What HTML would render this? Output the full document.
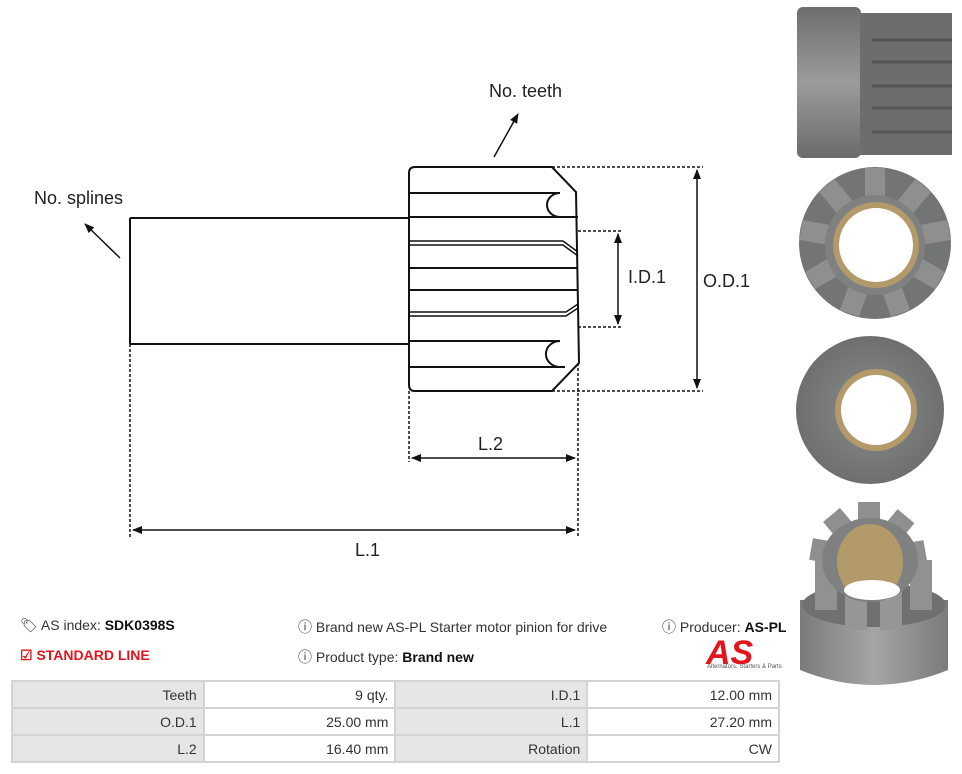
<!DOCTYPE html>
<html><head><meta charset="utf-8"><style>
body{margin:0;width:962px;height:774px;background:#fff;font-family:"Liberation Sans",sans-serif;overflow:hidden;position:relative}
.t{position:absolute;font-size:14px;color:#333;white-space:nowrap}
b{color:#111}
table{position:absolute;left:11px;top:680px;border-collapse:collapse;width:769px}
td{border:2px solid #d4d4d4;height:25px;font-size:14px;color:#333;text-align:right;padding:0 6px;width:180px}
td.g{background:#e6e6e6}
</style></head><body>
<svg width="962" height="774" style="position:absolute;left:0;top:0" font-family="Liberation Sans, sans-serif">
<defs>
<marker id="a" markerWidth="10" markerHeight="10" refX="9" refY="5" orient="auto" markerUnits="userSpaceOnUse"><path d="M0,1 L10,5 L0,9 z" fill="#111"/></marker>
<marker id="b" markerWidth="10" markerHeight="10" refX="1" refY="5" orient="auto" markerUnits="userSpaceOnUse"><path d="M10,1 L0,5 L10,9 z" fill="#111"/></marker>
<radialGradient id="gr" cx="50%" cy="50%" r="50%"><stop offset="0" stop-color="#8a8c8c"/><stop offset="1" stop-color="#6e7070"/></radialGradient>
<linearGradient id="gl" x1="0" y1="0" x2="0" y2="1"><stop offset="0" stop-color="#6d6f6f"/><stop offset=".5" stop-color="#9a9c9c"/><stop offset="1" stop-color="#6a6c6c"/></linearGradient>
<linearGradient id="gh" x1="0" y1="0" x2="1" y2="0"><stop offset="0" stop-color="#7a7c7c"/><stop offset=".5" stop-color="#a4a6a6"/><stop offset="1" stop-color="#7a7c7c"/></linearGradient>
</defs>
<g stroke="#111" fill="none" stroke-width="2">
<path d="M130,218 H409 M130,344 H409 M130,218 V344"/>
<path d="M415,167 H552 L576,192 L579,363 L552,391 H415 Q409,391 409,385 V173 Q409,167 415,167 Z"/>
<path d="M409,193 H560 M409,217 H578 M409,268 H578 M409,290 H578 M409,341 H560 M409,367 H565"/>
<path d="M409,241 H563 L578,252 M409,245 H563 L578,256" stroke-width="1.5"/>
<path d="M409,312 H566 L578,304 M409,316 H566 L578,308" stroke-width="1.5"/>
<path d="M560,193 A13,12 0 0 0 560,217 M560,341 A13,12 0 0 0 560,367"/>
</g>
<g stroke="#111" stroke-width="1.5" stroke-dasharray="3,2" fill="none">
<path d="M130,344 V537 M409,391 V462 M578,363 V537 M552,167 H703 M552,391 H703 M578,231 H622 M578,327 H622"/>
</g>
<g stroke="#111" stroke-width="1.5">
<line x1="697" y1="170" x2="697" y2="388" marker-start="url(#b)" marker-end="url(#a)"/>
<line x1="618" y1="234" x2="618" y2="324" marker-start="url(#b)" marker-end="url(#a)"/>
<line x1="412" y1="458" x2="575" y2="458" marker-start="url(#b)" marker-end="url(#a)"/>
<line x1="133" y1="530" x2="575" y2="530" marker-start="url(#b)" marker-end="url(#a)"/>
<line x1="494" y1="157" x2="518" y2="114" marker-end="url(#a)"/>
<line x1="120" y1="258" x2="85" y2="224" marker-end="url(#a)"/>
</g>
<g font-size="18" fill="#222">
<text x="489" y="97">No. teeth</text>
<text x="34" y="204">No. splines</text>
<text x="628" y="283">I.D.1</text>
<text x="703" y="287">O.D.1</text>
<text x="478" y="450">L.2</text>
<text x="355" y="556">L.1</text>
</g>
<rect x="797" y="7" width="64" height="151" rx="6" fill="url(#gl)"/>
<rect x="860" y="13" width="92" height="142" fill="#6c6e6e"/>
<g stroke="#555" stroke-width="3"><path d="M872,40 H952 M872,62 H952 M872,86 H952 M872,108 H952 M872,132 H952"/></g>
<circle cx="875" cy="243" r="76" fill="#737575"/>
<g fill="#8e9090">
<rect x="865" y="168" width="20" height="30" transform="rotate(0 875 243)"/>
<rect x="865" y="168" width="20" height="30" transform="rotate(40 875 243)"/>
<rect x="865" y="168" width="20" height="30" transform="rotate(80 875 243)"/>
<rect x="865" y="168" width="20" height="30" transform="rotate(120 875 243)"/>
<rect x="865" y="168" width="20" height="30" transform="rotate(160 875 243)"/>
<rect x="865" y="168" width="20" height="30" transform="rotate(200 875 243)"/>
<rect x="865" y="168" width="20" height="30" transform="rotate(240 875 243)"/>
<rect x="865" y="168" width="20" height="30" transform="rotate(280 875 243)"/>
<rect x="865" y="168" width="20" height="30" transform="rotate(320 875 243)"/>
</g>
<circle cx="875" cy="245" r="50" fill="#7f8181"/>
<circle cx="876" cy="245" r="43" fill="#b29a6a"/>
<circle cx="876" cy="245" r="37" fill="#fff"/>
<circle cx="870" cy="410" r="74" fill="url(#gr)"/>
<circle cx="876" cy="410" r="41" fill="#b29a6a"/>
<circle cx="876" cy="410" r="35" fill="#fff"/>
<path d="M800,600 H948 V670 Q874,700 800,670 Z" fill="url(#gh)"/>
<ellipse cx="874" cy="605" rx="72" ry="22" fill="#6f7171"/>
<g fill="#8e9090">
<rect x="858" y="502" width="22" height="40" transform="rotate(0 868 560)"/>
<rect x="858" y="502" width="22" height="40" transform="rotate(40 868 560)"/>
<rect x="858" y="502" width="22" height="40" transform="rotate(80 868 560)"/>
<rect x="858" y="502" width="22" height="40" transform="rotate(-40 868 560)"/>
<rect x="858" y="502" width="22" height="40" transform="rotate(-80 868 560)"/>
</g>
<rect x="815" y="560" width="22" height="50" fill="#909292"/>
<rect x="845" y="570" width="22" height="60" fill="#959797"/>
<rect x="880" y="570" width="22" height="60" fill="#959797"/>
<rect x="910" y="560" width="22" height="50" fill="#909292"/>
<ellipse cx="870" cy="560" rx="48" ry="42" fill="#7f8181"/>
<ellipse cx="870" cy="562" rx="33" ry="38" fill="#b29a6a"/>
<ellipse cx="872" cy="590" rx="28" ry="10" fill="#fff"/>
<text x="706" y="664" font-size="34" font-weight="bold" font-style="italic" fill="#e3141b">AS</text>
<text x="707" y="668" font-size="6" fill="#555">Alternators, Starters &amp; Parts</text>
</svg>
<div class="t" style="left:20px;top:617px">🏷 AS index: <b>SDK0398S</b></div>
<div class="t" style="left:20px;top:647px;color:#e3141b;font-weight:bold">☑ STANDARD LINE</div>
<div class="t" style="left:298px;top:617px">ⓘ Brand new AS-PL Starter motor pinion for drive</div>
<div class="t" style="left:298px;top:647px">ⓘ Product type: <b>Brand new</b></div>
<div class="t" style="left:662px;top:617px">ⓘ Producer: <b>AS-PL</b></div>
<table>
<tr><td class="g">Teeth</td><td>9 qty.</td><td class="g">I.D.1</td><td>12.00 mm</td></tr>
<tr><td class="g">O.D.1</td><td>25.00 mm</td><td class="g">L.1</td><td>27.20 mm</td></tr>
<tr><td class="g">L.2</td><td>16.40 mm</td><td class="g">Rotation</td><td>CW</td></tr>
</table>
</body></html>
